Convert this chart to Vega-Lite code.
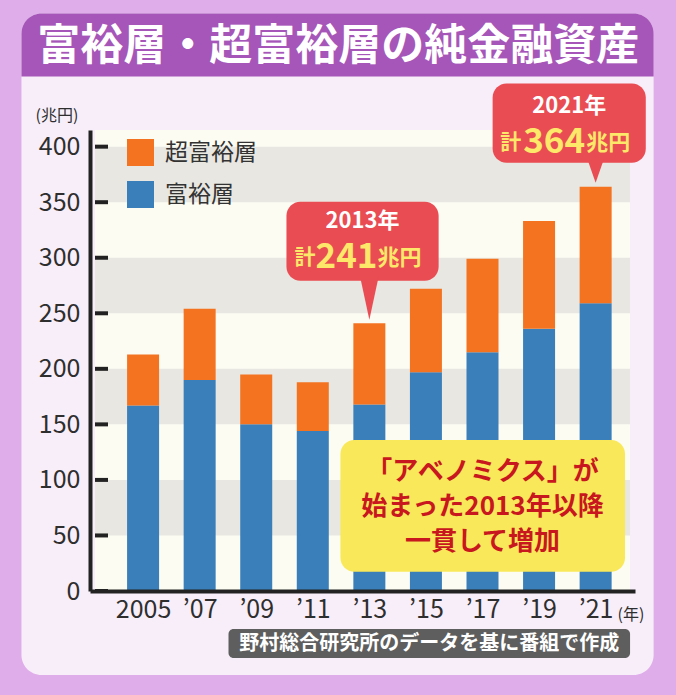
{
  "$schema": "https://vega.github.io/schema/vega-lite/v6.json",
  "width": 545,
  "height": 461,
  "autosize": {"type": "none"},
  "padding": {"left": 90, "top": 130, "right": 41, "bottom": 104},
  "background": "#dfade9",
  "config": {
    "view": {"stroke": null},
    "font": "Noto Sans CJK JP",
    "text": {"font": "Noto Sans CJK JP"}
  },
  "layer": [
    {
      "data": {"values": [{}]},
      "mark": {"type": "rect", "fill": "#f8eefa", "cornerRadius": 20},
      "encoding": {
        "x": {"datum": 2000.7, "type": "quantitative"},
        "x2": {"datum": 2023.05},
        "y": {"datum": -75.7, "type": "quantitative"},
        "y2": {"datum": 519.8}
      }
    },
    {
      "data": {"values": [{}]},
      "mark": {"type": "rect", "fill": "#a655b8", "cornerRadiusTopLeft": 20, "cornerRadiusTopRight": 20},
      "encoding": {
        "x": {"datum": 2000.7, "type": "quantitative"},
        "x2": {"datum": 2023.05},
        "y": {"datum": 463.1, "type": "quantitative"},
        "y2": {"datum": 519.8}
      }
    },
    {
      "data": {"values": [{}]},
      "mark": {"type": "text", "text": "富裕層・超富裕層の純金融資産", "fontSize": 43, "fontWeight": "bold", "fill": "#ffffff", "align": "center", "baseline": "middle"},
      "encoding": {
        "x": {"datum": 2011.9, "type": "quantitative"},
        "y": {"datum": 490, "type": "quantitative"}
      }
    },
    {
      "data": {"values": [{}]},
      "mark": {"type": "rect", "fill": "#fdfcf3"},
      "encoding": {
        "x": {"datum": 2003.3, "type": "quantitative"},
        "x2": {"datum": 2022.215},
        "y": {"datum": 0, "type": "quantitative"},
        "y2": {"datum": 415}
      }
    },
    {
      "data": {"values": [{"from": 50, "to": 100}, {"from": 150, "to": 200}, {"from": 250, "to": 300}, {"from": 350, "to": 400}]},
      "mark": {"type": "rect", "fill": "#e8e7e1"},
      "encoding": {
        "x": {"datum": 2003.3, "type": "quantitative"},
        "x2": {"datum": 2022.215},
        "y": {"field": "from", "type": "quantitative"},
        "y2": {"field": "to"}
      }
    },
    {
      "data": {"values": [
        {"year": 2005, "type": "富裕層", "value": 167},
        {"year": 2005, "type": "超富裕層", "value": 46},
        {"year": 2007, "type": "富裕層", "value": 190},
        {"year": 2007, "type": "超富裕層", "value": 64},
        {"year": 2009, "type": "富裕層", "value": 150},
        {"year": 2009, "type": "超富裕層", "value": 45},
        {"year": 2011, "type": "富裕層", "value": 144},
        {"year": 2011, "type": "超富裕層", "value": 44},
        {"year": 2013, "type": "富裕層", "value": 168},
        {"year": 2013, "type": "超富裕層", "value": 73},
        {"year": 2015, "type": "富裕層", "value": 197},
        {"year": 2015, "type": "超富裕層", "value": 75},
        {"year": 2017, "type": "富裕層", "value": 215},
        {"year": 2017, "type": "超富裕層", "value": 84},
        {"year": 2019, "type": "富裕層", "value": 236},
        {"year": 2019, "type": "超富裕層", "value": 97},
        {"year": 2021, "type": "富裕層", "value": 259},
        {"year": 2021, "type": "超富裕層", "value": 105}
      ]},
      "mark": {"type": "bar", "size": 32},
      "encoding": {
        "x": {
          "field": "year", "type": "quantitative",
          "scale": {"domain": [2003.3, 2022.215], "nice": false, "zero": false},
          "axis": {
            "values": [2005, 2007, 2009, 2011, 2013, 2015, 2017, 2019, 2021],
            "format": "d",
            "labelExpr": "datum.value == 2005 ? '2005' : '’' + substring(datum.label, 2, 4)",
            "labelFontSize": 25, "labelColor": "#2e2e2e", "labelPadding": 6,
            "labelFont": "Noto Sans CJK JP",
            "ticks": false, "grid": false,
            "domainColor": "#222222", "domainWidth": 4,
            "title": "(年)", "titleX": 527, "titleY": 23, "titleAlign": "left", "titleBaseline": "middle",
            "titleFontSize": 16, "titleFontWeight": "normal", "titleColor": "#2e2e2e", "titleFont": "Noto Sans CJK JP",
            "zindex": 1
          }
        },
        "y": {
          "field": "value", "type": "quantitative", "stack": "zero",
          "scale": {"domain": [0, 415], "nice": false},
          "axis": {
            "values": [0, 50, 100, 150, 200, 250, 300, 350, 400],
            "labelFontSize": 25, "labelColor": "#2e2e2e", "labelPadding": 10,
            "labelFont": "Noto Sans CJK JP",
            "ticks": false,
            "grid": false,
            "domainColor": "#222222", "domainWidth": 4,
            "title": "(兆円)", "titleAngle": 0, "titleX": -55, "titleY": -15, "titleAlign": "left", "titleBaseline": "middle",
            "titleFontSize": 16, "titleFontWeight": "normal", "titleColor": "#2e2e2e", "titleFont": "Noto Sans CJK JP",
            "zindex": 1
          }
        },
        "color": {
          "field": "type", "type": "nominal",
          "scale": {"domain": ["超富裕層", "富裕層"], "range": ["#f37321", "#3a7fb9"]},
          "legend": {
            "orient": "none", "legendX": 37, "legendY": 9, "title": null, "padding": 0,
            "symbolType": "square", "symbolSize": 729, "symbolStrokeWidth": 0,
            "labelFontSize": 23, "labelColor": "#333333", "labelOffset": 11, "rowPadding": 15,
            "labelFont": "Noto Sans CJK JP"
          }
        },
        "order": {"field": "type", "sort": "ascending"}
      }
    },
    {
      "data": {"values": [{"tick": 0}, {"tick": 50}, {"tick": 100}, {"tick": 150}, {"tick": 200}, {"tick": 250}, {"tick": 300}, {"tick": 350}, {"tick": 400}]},
      "mark": {"type": "rule", "color": "#222222", "strokeWidth": 4},
      "encoding": {
        "x": {"datum": 2003.3, "type": "quantitative"},
        "x2": {"datum": 2003.76},
        "y": {"field": "tick", "type": "quantitative"}
      }
    },
    {
      "data": {"values": [{}]},
      "mark": {"type": "rect", "fill": "#f9e95a", "cornerRadius": 14},
      "encoding": {
        "x": {"datum": 2011.977, "type": "quantitative"},
        "x2": {"datum": 2022.04},
        "y": {"datum": 17.4, "type": "quantitative"},
        "y2": {"datum": 135.9}
      }
    },
    {
      "data": {"values": [{}]},
      "mark": {"type": "text", "text": ["「アベノミクス」が", "始まった2013年以降", "一貫して増加"], "lineHeight": 35, "fontSize": 26, "fontWeight": "bold", "fill": "#c8171e", "align": "center", "baseline": "middle"},
      "encoding": {
        "x": {"datum": 2017, "type": "quantitative"},
        "y": {"datum": 107.2, "type": "quantitative"}
      }
    },
    {
      "data": {"values": [{}]},
      "mark": {"type": "rect", "fill": "#e94c52", "cornerRadius": 14},
      "encoding": {
        "x": {"datum": 2010.069, "type": "quantitative"},
        "x2": {"datum": 2015.449},
        "y": {"datum": 279.3, "type": "quantitative"},
        "y2": {"datum": 350.5}
      }
    },
    {
      "data": {"values": [{}]},
      "mark": {"type": "point", "shape": "M -0.43 -1 L 0.43 -1 L 0 1 Z", "size": 1764, "filled": true, "fill": "#e94c52", "opacity": 1, "strokeWidth": 0},
      "encoding": {
        "x": {"datum": 2013, "type": "quantitative"},
        "y": {"datum": 263.1, "type": "quantitative"}
      }
    },
    {
      "data": {"values": [{}]},
      "mark": {"type": "text", "text": "2013年", "fontSize": 22, "fontWeight": "bold", "fill": "#ffffff", "align": "center", "baseline": "middle"},
      "encoding": {
        "x": {"datum": 2012.758, "type": "quantitative"},
        "y": {"datum": 333.3, "type": "quantitative"}
      }
    },
    {
      "data": {"values": [{}]},
      "mark": {"type": "text", "text": "241", "fontSize": 35, "fontWeight": "bold", "fill": "#fde86a", "align": "center", "baseline": "middle", "dx": -16},
      "encoding": {
        "x": {"datum": 2012.758, "type": "quantitative"},
        "y": {"datum": 300.9, "type": "quantitative"}
      }
    },
    {
      "data": {"values": [{}]},
      "mark": {"type": "text", "text": "計", "fontSize": 21, "fontWeight": "bold", "fill": "#fde86a", "align": "right", "baseline": "middle", "dx": -47},
      "encoding": {
        "x": {"datum": 2012.758, "type": "quantitative"},
        "y": {"datum": 299.6, "type": "quantitative"}
      }
    },
    {
      "data": {"values": [{}]},
      "mark": {"type": "text", "text": "兆円", "fontSize": 22, "fontWeight": "bold", "fill": "#fde86a", "align": "left", "baseline": "middle", "dx": 15},
      "encoding": {
        "x": {"datum": 2012.758, "type": "quantitative"},
        "y": {"datum": 299.6, "type": "quantitative"}
      }
    },
    {
      "data": {"values": [{}]},
      "mark": {"type": "rect", "fill": "#e94c52", "cornerRadius": 14},
      "encoding": {
        "x": {"datum": 2017.358, "type": "quantitative"},
        "x2": {"datum": 2022.773},
        "y": {"datum": 385.6, "type": "quantitative"},
        "y2": {"datum": 456.8}
      }
    },
    {
      "data": {"values": [{}]},
      "mark": {"type": "point", "shape": "M -0.7 -1 L 0.7 -1 L 0 1 Z", "size": 529, "filled": true, "fill": "#e94c52", "opacity": 1, "strokeWidth": 0},
      "encoding": {
        "x": {"datum": 2021, "type": "quantitative"},
        "y": {"datum": 377.9, "type": "quantitative"}
      }
    },
    {
      "data": {"values": [{}]},
      "mark": {"type": "text", "text": "2021年", "fontSize": 22, "fontWeight": "bold", "fill": "#ffffff", "align": "center", "baseline": "middle"},
      "encoding": {
        "x": {"datum": 2020.065, "type": "quantitative"},
        "y": {"datum": 436.9, "type": "quantitative"}
      }
    },
    {
      "data": {"values": [{}]},
      "mark": {"type": "text", "text": "364", "fontSize": 35, "fontWeight": "bold", "fill": "#fde86a", "align": "center", "baseline": "middle", "dx": -15},
      "encoding": {
        "x": {"datum": 2020.065, "type": "quantitative"},
        "y": {"datum": 404.5, "type": "quantitative"}
      }
    },
    {
      "data": {"values": [{}]},
      "mark": {"type": "text", "text": "計", "fontSize": 21, "fontWeight": "bold", "fill": "#fde86a", "align": "right", "baseline": "middle", "dx": -48},
      "encoding": {
        "x": {"datum": 2020.065, "type": "quantitative"},
        "y": {"datum": 403.2, "type": "quantitative"}
      }
    },
    {
      "data": {"values": [{}]},
      "mark": {"type": "text", "text": "兆円", "fontSize": 22, "fontWeight": "bold", "fill": "#fde86a", "align": "left", "baseline": "middle", "dx": 17},
      "encoding": {
        "x": {"datum": 2020.065, "type": "quantitative"},
        "y": {"datum": 403.2, "type": "quantitative"}
      }
    },
    {
      "data": {"values": [{}]},
      "mark": {"type": "rect", "fill": "#5e5e5e", "cornerRadius": 5},
      "encoding": {
        "x": {"datum": 2008.02, "type": "quantitative"},
        "x2": {"datum": 2022.217},
        "y": {"datum": -60.4, "type": "quantitative"},
        "y2": {"datum": -34.2}
      }
    },
    {
      "data": {"values": [{}]},
      "mark": {"type": "text", "text": "野村総合研究所のデータを基に番組で作成", "fontSize": 20, "fontWeight": "bold", "fill": "#ffffff", "align": "center", "baseline": "middle"},
      "encoding": {
        "x": {"datum": 2015.12, "type": "quantitative"},
        "y": {"datum": -47.3, "type": "quantitative"}
      }
    }
  ]
}
